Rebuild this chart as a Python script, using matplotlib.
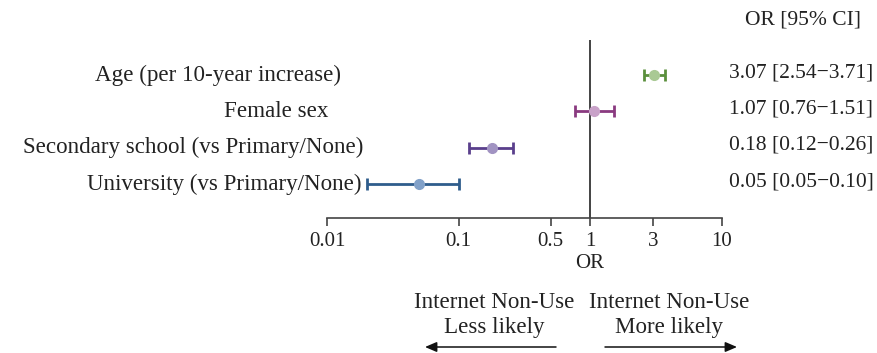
import matplotlib
matplotlib.use("Agg")
import matplotlib.pyplot as plt
from matplotlib.transforms import blended_transform_factory

# Data (top to bottom)
labels = ["Age (per 10-year increase)", "Female sex",
          "Secondary school (vs Primary/None)", "University (vs Primary/None)"]
or_vals = [3.07, 1.07, 0.18, 0.05]
ci_low = [2.54, 0.76, 0.12, 0.02]
ci_high = [3.71, 1.51, 0.26, 0.10]
ci_text = ["3.07 [2.54\u22123.71]", "1.07 [0.76\u22121.51]",
           "0.18 [0.12\u22120.26]", "0.05 [0.05\u22120.10]"]
line_colors = ["#5b8f3c", "#8a3a80", "#5a3f8c", "#2f5d8c"]
marker_colors = ["#a9c994", "#c9a2c9", "#a193c2", "#81a1c9"]
xticks = [0.01, 0.1, 0.5, 1, 3, 10]
xticklabels = ["0.01", "0.1", "0.5", "1", "3", "10"]

# layout: right edge (px) of each row label
label_right_px = [341, 328, 363, 362]

plt.rcParams['font.family'] = ['Liberation Serif', 'DejaVu Serif']
FS_LAB = 16.6
FS_NUM = 15.5
FS_TICK = 15
TXT = "#222222"
W, H = 878, 353
fig = plt.figure(figsize=(W / 100, H / 100), dpi=100)
ax = fig.add_axes([327 / W, (H - 218) / H, 395 / W, 178 / H])
ax.set_xscale("log")
ax.set_xlim(0.01, 10)
n = len(labels)
ypos = list(range(n - 1, -1, -1))
ax.set_ylim(-0.937, 3.964)

for i in range(n):
    y = ypos[i]
    ax.errorbar(or_vals[i], y,
                xerr=[[or_vals[i] - ci_low[i]], [ci_high[i] - or_vals[i]]],
                fmt="o", color=line_colors[i], ecolor=line_colors[i],
                markerfacecolor=marker_colors[i], markeredgecolor=marker_colors[i],
                markersize=7, elinewidth=2, capsize=4.5, capthick=2, zorder=3)

ax.axvline(1, color="#222222", lw=1.2, zorder=1)

for s in ["top", "right", "left"]:
    ax.spines[s].set_visible(False)
ax.spines["bottom"].set_color("#444444")
ax.spines["bottom"].set_linewidth(1.2)
ax.set_yticks([])
ax.set_xticks(xticks)
ax.set_xticklabels(xticklabels, fontsize=FS_TICK, color=TXT)
ax.minorticks_off()
ax.tick_params(axis="x", direction="out", length=6, width=1.2, color="#444444", pad=4)
fig.text(590 / W, 1 - 263 / H, "OR", ha="center", va="center",
         fontsize=FS_TICK, color=TXT)

tr = blended_transform_factory(fig.transFigure, ax.transData)
for i in range(n):
    y = ypos[i]
    ax.text(label_right_px[i] / W, y, labels[i], transform=tr, ha="right", va="center",
            fontsize=FS_LAB, color=TXT, clip_on=False)
    ax.text(801 / W, y + 0.06, ci_text[i], transform=tr, ha="center", va="center",
            fontsize=FS_NUM, color=TXT, clip_on=False)

fig.text(803 / W, 1 - 20 / H, "OR [95% CI]", ha="center", va="center",
         fontsize=FS_NUM, color=TXT)

fig.text(494 / W, 1 - 302 / H, "Internet Non-Use", ha="center", va="center",
         fontsize=FS_LAB, color=TXT)
fig.text(494 / W, 1 - 327 / H, "Less likely", ha="center", va="center",
         fontsize=FS_LAB, color=TXT)
fig.text(669 / W, 1 - 302 / H, "Internet Non-Use", ha="center", va="center",
         fontsize=FS_LAB, color=TXT)
fig.text(669 / W, 1 - 327 / H, "More likely", ha="center", va="center",
         fontsize=FS_LAB, color=TXT)

ax.annotate("", xy=(425 / W, 1 - 347 / H), xytext=(556 / W, 1 - 347 / H),
            xycoords="figure fraction", textcoords="figure fraction",
            arrowprops=dict(arrowstyle="-|>,head_length=0.7,head_width=0.3",
                            color="#111111", lw=1.1, shrinkA=0, shrinkB=0))
ax.annotate("", xy=(737 / W, 1 - 347 / H), xytext=(605 / W, 1 - 347 / H),
            xycoords="figure fraction", textcoords="figure fraction",
            arrowprops=dict(arrowstyle="-|>,head_length=0.7,head_width=0.3",
                            color="#111111", lw=1.1, shrinkA=0, shrinkB=0))

fig.savefig("out.png", dpi=100)
